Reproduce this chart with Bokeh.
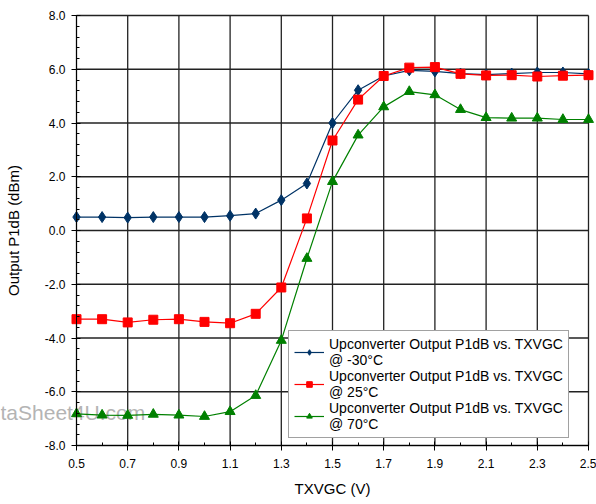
from bokeh.plotting import figure
from bokeh.models import FixedTicker, PrintfTickFormatter, Legend, LegendItem, Label
from bokeh.embed import file_html
from bokeh.resources import INLINE

txvgc = [0.5, 0.6, 0.7, 0.8, 0.9, 1.0, 1.1, 1.2, 1.3, 1.4, 1.5,
         1.6, 1.7, 1.8, 1.9, 2.0, 2.1, 2.2, 2.3, 2.4, 2.5]
p1db_m30 = [0.50, 0.50, 0.48, 0.50, 0.50, 0.50, 0.55, 0.63, 1.13, 1.75, 4.00,
            5.22, 5.75, 5.96, 5.92, 5.84, 5.80, 5.84, 5.88, 5.88, 5.83]
p1db_25 = [-3.30, -3.30, -3.42, -3.32, -3.30, -3.40, -3.45, -3.10, -2.12, 0.45, 3.35,
           4.87, 5.75, 6.06, 6.08, 5.83, 5.77, 5.78, 5.73, 5.76, 5.78]
p1db_70 = [-6.82, -6.87, -6.88, -6.84, -6.87, -6.92, -6.74, -6.14, -4.09, -1.04, 1.82,
           3.55, 4.60, 5.17, 5.05, 4.50, 4.20, 4.18, 4.18, 4.13, 4.13]

x_major = [0.5, 0.7, 0.9, 1.1, 1.3, 1.5, 1.7, 1.9, 2.1, 2.3, 2.5]
x_minor = [0.5, 0.6, 0.7, 0.8, 0.9, 1.0, 1.1, 1.2, 1.3, 1.4, 1.5,
           1.6, 1.7, 1.8, 1.9, 2.0, 2.1, 2.2, 2.3, 2.4, 2.5]
y_major = [-8, -6, -4, -2, 0, 2, 4, 6, 8]
y_minor = [-8.0, -7.6, -7.2, -6.8, -6.4, -6.0, -5.6, -5.2, -4.8, -4.4, -4.0,
           -3.6, -3.2, -2.8, -2.4, -2.0, -1.6, -1.2, -0.8, -0.4, 0.0,
           0.4, 0.8, 1.2, 1.6, 2.0, 2.4, 2.8, 3.2, 3.6, 4.0,
           4.4, 4.8, 5.2, 5.6, 6.0, 6.4, 6.8, 7.2, 7.6, 8.0]

labels = ["Upconverter Output P1dB vs. TXVGC\n@ -30\u00b0C",
          "Upconverter Output P1dB vs. TXVGC\n@ 25\u00b0C",
          "Upconverter Output P1dB vs. TXVGC\n@ 70\u00b0C"]

FONT = "Liberation Sans"

X0, X1 = x_major[0], x_major[-1]
Y0, Y1 = y_major[0], y_major[-1]
W, H = 596, 504
PAD_L, PAD_R, PAD_T, PAD_B = 76, 8, 15, 59   # space around the plotting area (px)
PX_X = (W - PAD_L - PAD_R) / (X1 - X0)
PX_Y = (H - PAD_T - PAD_B) / (Y1 - Y0)

p = figure(width=W, height=H, output_backend="svg", toolbar_location=None,
           x_range=(X0 - PAD_L / PX_X, X1 + PAD_R / PX_X),
           y_range=(Y0 - PAD_B / PX_Y, Y1 + PAD_T / PX_Y),
           min_border_left=0, min_border_right=0, min_border_top=0, min_border_bottom=0)
p.background_fill_color = "white"
p.border_fill_color = "white"
p.outline_line_color = None
p.grid.visible = False

for ax in (p.xaxis[0], p.yaxis[0]):
    ax.axis_line_color = "black"
    ax.axis_line_width = 1
    ax.major_tick_in = 4
    ax.major_tick_out = 5
    ax.minor_tick_in = 3
    ax.minor_tick_out = 0
    ax.major_tick_line_color = "black"
    ax.minor_tick_line_color = "black"
    ax.major_label_text_font = FONT
    ax.major_label_text_font_size = "12px"
    ax.major_label_text_color = "black"
    ax.axis_label_text_font = FONT
    ax.axis_label_text_font_size = "15px"
    ax.axis_label_text_font_style = "normal"
    ax.axis_label_text_color = "black"
    ax.formatter = PrintfTickFormatter(format="%.1f")

p.xaxis[0].ticker = FixedTicker(ticks=x_major, minor_ticks=x_minor)
p.yaxis[0].ticker = FixedTicker(ticks=y_major, minor_ticks=y_minor)
p.xaxis[0].bounds = (X0, X1)
p.yaxis[0].bounds = (Y0, Y1)
p.xaxis[0].fixed_location = Y0
p.yaxis[0].fixed_location = X0
p.xaxis[0].axis_label = "TXVGC (V)"
p.yaxis[0].axis_label = "Output P1dB (dBm)"
p.xaxis[0].major_label_standoff = 8
p.yaxis[0].major_label_standoff = 6
p.xaxis[0].axis_label_standoff = 9
p.yaxis[0].axis_label_standoff = 20

# grid lines restricted to the plotting area
p.segment(x0=x_major, x1=x_major, y0=[Y0] * len(x_major), y1=[Y1] * len(x_major),
          line_color="#222222", line_width=1.3, level="underlay")
p.segment(x0=[X0] * len(y_major), x1=[X1] * len(y_major), y0=y_major, y1=y_major,
          line_color="#222222", line_width=1.3, level="underlay")

wm = Label(x=0, y=412, x_units="canvas", y_units="canvas", text="taSheet4U.com",
           text_font=FONT, text_font_size="21px", level="image",
           text_color="#b4b4b4", text_baseline="alphabetic")
p.add_layout(wm)

l1 = p.line(txvgc, p1db_m30, line_color="#003366", line_width=1.2)
m1 = p.scatter(txvgc, p1db_m30, marker="diamond", size=11, fill_color="#003366", line_color="#003366")
l2 = p.line(txvgc, p1db_25, line_color="#ff0000", line_width=1.2)
m2 = p.scatter(txvgc, p1db_25, marker="square", size=9, fill_color="#ff0000", line_color="#ff0000")
l3 = p.line(txvgc, p1db_70, line_color="#008000", line_width=1.2)
m3 = p.scatter(txvgc, p1db_70, marker="triangle", size=10, fill_color="#008000", line_color="#008000")

legend = Legend(items=[LegendItem(label=labels[0], renderers=[l1, m1]),
                       LegendItem(label=labels[1], renderers=[l2, m2]),
                       LegendItem(label=labels[2], renderers=[l3, m3])],
                location=(288, 66), label_text_font=FONT, label_text_font_size="14px",
                label_text_color="black", label_height=30, glyph_width=30, glyph_height=14,
                spacing=0, padding=5, margin=0, label_standoff=5,
                border_line_color="#444444", border_line_width=1.5,
                background_fill_color="white", background_fill_alpha=1.0)
p.add_layout(legend, "center")

open("out.html", "w").write(file_html(p, INLINE))
